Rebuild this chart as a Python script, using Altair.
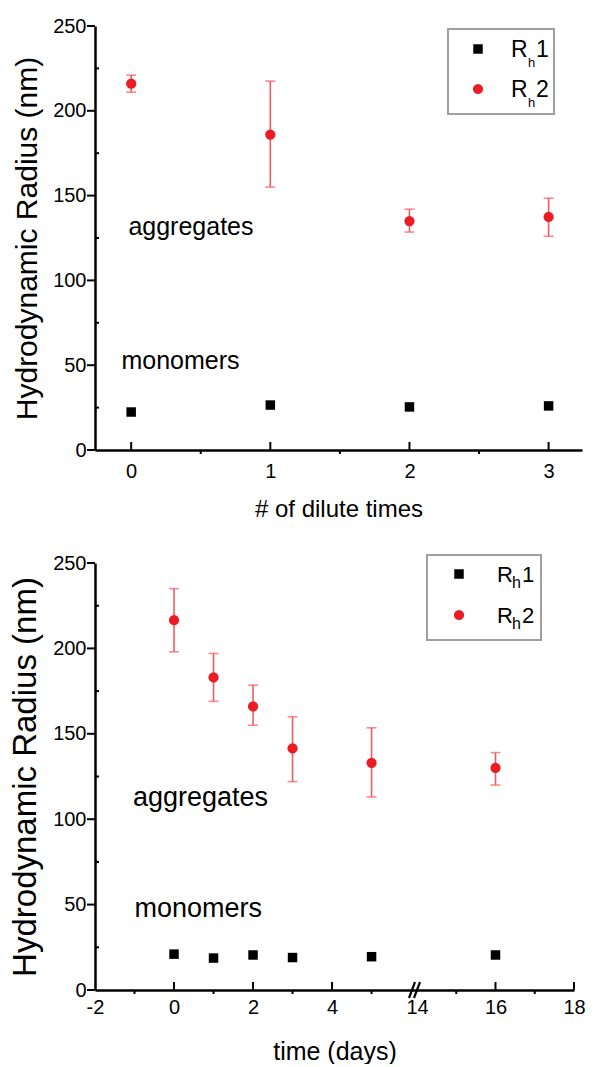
import altair as alt
import pandas as pd

FONT = "Liberation Sans"
RED = "#ea1c24"
ERRC = "#ef5d62"

# ---------------- data ----------------
top_x = [0, 1, 2, 3]
top_rh1 = [22.4, 26.5, 25.4, 26.0]
top_rh2 = [216.0, 186.0, 135.0, 137.4]
top_rh2_lo = [211.0, 155.0, 128.5, 126.0]
top_rh2_hi = [221.0, 217.5, 142.0, 148.5]

bot_t = [0, 1, 2, 3, 5, 16]
bot_rh1 = [21.0, 18.7, 20.5, 19.0, 19.5, 20.5]
bot_rh2 = [216.5, 183.0, 166.0, 141.5, 133.0, 130.0]
bot_rh2_lo = [198.0, 169.0, 155.0, 122.0, 113.0, 120.0]
bot_rh2_hi = [235.0, 197.0, 178.5, 160.0, 153.5, 139.0]

series_nums = ["1", "2"]
y_major = [0, 50, 100, 150, 200, 250]
y_minor = [25, 75, 125, 175, 225]
top_x_labels = [0, 1, 2, 3]
top_x_major = [0, 1, 2, 3]
top_x_minor = [0.5, 1.5, 2.5]
bot_x_labels = [-2, 0, 2, 4, 14, 16, 18]
bot_x_major = [0, 2, 4, 16, 18]
bot_x_minor = [-1, 1, 3, 5, 15, 17]
bot_x_break = [14]


def panel(xv, rh1, rh2, lo, hi, xscale, label_vals, x_major, x_minor, W, H,
          xtitle, xtitle_size, ytitle_size, ann, ann_size, leg, lay, breaks=None):
    df = pd.DataFrame({"x": xv, "rh1": rh1, "rh2": rh2, "lo": lo, "hi": hi})
    ys = alt.Scale(domain=[0, 250], nice=False, zero=False)
    xaxis = alt.Axis(values=label_vals, ticks=False, grid=False, domainColor="black",
                     domainWidth=2.5, labelFont=FONT, labelFontSize=20, labelColor="black",
                     labelPadding=lay["xlp"], labelOverlap=False, labelFlush=False,
                     labelExpr="datum.value < 0 ? '-' + abs(datum.value) : datum.label",
                     title=xtitle, titleFont=FONT, titleFontSize=xtitle_size,
                     titleFontWeight="normal", titleColor="black", titlePadding=lay["xtp"])
    yaxis = alt.Axis(values=y_major, ticks=False, grid=False, domainColor="black",
                     domainWidth=2.5, labelFont=FONT, labelFontSize=20, labelColor="black",
                     labelPadding=9, labelOverlap=False, labelFlush=False,
                     title="Hydrodynamic Radius (nm)", titleFont=FONT,
                     titleFontSize=ytitle_size, titleFontWeight="normal",
                     titleColor="black", titlePadding=lay["ytp"])

    def X(f):
        return alt.X(f, scale=xscale, axis=xaxis)

    def Y(f):
        return alt.Y(f, scale=ys, axis=yaxis)

    base = alt.Chart(df)
    layers = []
    layers.append(base.mark_rule(color=ERRC, strokeWidth=1.6).encode(
        x=X("x:Q"), y=Y("lo:Q"), y2="hi:Q"))
    for f in ["lo", "hi"]:
        layers.append(base.mark_tick(color=ERRC, thickness=1.6, size=10,
                                     orient="horizontal").encode(x=X("x:Q"), y=Y(f + ":Q")))
    layers.append(base.mark_point(shape="square", filled=True, size=90, color="black",
                                  opacity=1).encode(x=X("x:Q"), y=Y("rh1:Q")))
    layers.append(base.mark_circle(size=105, color=RED, opacity=1).encode(
        x=X("x:Q"), y=Y("rh2:Q")))

    # axis ticks
    layers.append(alt.Chart(pd.DataFrame({"x": x_major})).mark_rule(
        color="black", strokeWidth=2).encode(x=X("x:Q"), y=alt.value(H), y2=alt.value(H - 8)))
    layers.append(alt.Chart(pd.DataFrame({"x": x_minor})).mark_rule(
        color="black", strokeWidth=2).encode(x=X("x:Q"), y=alt.value(H), y2=alt.value(H + 4)))
    layers.append(alt.Chart(pd.DataFrame({"y": y_major})).mark_rule(
        color="black", strokeWidth=2).encode(y=Y("y:Q"), x=alt.value(0), x2=alt.value(-8)))
    layers.append(alt.Chart(pd.DataFrame({"y": y_minor})).mark_rule(
        color="black", strokeWidth=2).encode(y=Y("y:Q"), x=alt.value(0), x2=alt.value(4)))

    if breaks:
        bdf = pd.DataFrame({"x": breaks, "y": [0] * len(breaks)})
        for off in (-8, -3):
            layers.append(alt.Chart(bdf).mark_rule(
                color="black", strokeWidth=2.2, xOffset=off, x2Offset=off + 6,
                yOffset=8, y2Offset=-8).encode(
                x=X("x:Q"), x2="x:Q", y=Y("y:Q"), y2="y:Q"))

    # annotations
    for (t, ax, ay) in ann:
        layers.append(alt.Chart(pd.DataFrame({"t": [t], "x": [ax], "y": [ay]})).mark_text(
            font=FONT, fontSize=ann_size, color="black", align="left",
            baseline="alphabetic").encode(x=X("x:Q"), y=Y("y:Q"), text="t:N"))

    # custom legend
    bx1, bx2, by1, by2 = leg["box"]
    one = pd.DataFrame({"a": [0]})
    layers.append(alt.Chart(one).mark_rect(fill="white", stroke="#a0a0a0",
                                           strokeWidth=2).encode(
        x=alt.value(bx1), x2=alt.value(bx2), y=alt.value(by1), y2=alt.value(by2)))
    sx = leg["sym_x"]
    r0, r1 = leg["rows"]
    layers.append(alt.Chart(one).mark_point(shape="square", filled=True, size=90,
                                            color="black", opacity=1).encode(
        x=alt.value(sx), y=alt.value(r0)))
    layers.append(alt.Chart(one).mark_circle(size=105, color=RED, opacity=1).encode(
        x=alt.value(sx), y=alt.value(r1)))
    for row_y, num in zip([r0, r1], series_nums):
        layers.append(alt.Chart(one).mark_text(font=FONT, fontSize=leg["fs"], color="black",
                                               align="left", baseline="alphabetic",
                                               text="R").encode(
            x=alt.value(leg["rx"]), y=alt.value(row_y + leg["base"])))
        layers.append(alt.Chart(one).mark_text(font=FONT, fontSize=leg["hfs"], color="black",
                                               align="left", baseline="alphabetic",
                                               text="h").encode(
            x=alt.value(leg["hx"]), y=alt.value(row_y + leg["hbase"])))
        layers.append(alt.Chart(one).mark_text(font=FONT, fontSize=leg["fs"], color="black",
                                               align="left", baseline="alphabetic",
                                               text=num).encode(
            x=alt.value(leg["nx"]), y=alt.value(row_y + leg["base"])))

    return alt.layer(*layers).properties(width=W, height=H)


top_scale = alt.Scale(domain=[-0.26, 3.24], nice=False, zero=False)
top = panel(top_x, top_rh1, top_rh2, top_rh2_lo, top_rh2_hi, top_scale,
            top_x_labels, top_x_major, top_x_minor, 487, 424,
            "# of dilute times", 24, 30,
            [("aggregates", -0.02, 127), ("monomers", -0.07, 48)], 25,
            {"box": (353, 459, 3, 88), "sym_x": 383, "rows": (23, 63), "fs": 23,
             "rx": 416, "base": 8, "hfs": 13, "hx": 433, "hbase": 18, "nx": 441},
            {"xlp": 11, "xtp": 16, "ytp": 10})

bot_scale = alt.Scale(domain=[-2, 6.15, 14, 18], range=[0, 322, 322, 479],
                      nice=False, zero=False)
bottom = panel(bot_t, bot_rh1, bot_rh2, bot_rh2_lo, bot_rh2_hi, bot_scale,
               bot_x_labels, bot_x_major, bot_x_minor, 479, 427,
               "time (days)", 25, 33,
               [("aggregates", -1.04, 108), ("monomers", -1.0, 43)], 27,
               {"box": (332, 446, -8, 77), "sym_x": 364, "rows": (11, 52), "fs": 22,
                "rx": 402, "base": 8, "hfs": 16, "hx": 417, "hbase": 14, "nx": 427},
               {"xlp": 7, "xtp": 22, "ytp": 10},
               breaks=bot_x_break)

chart = alt.vconcat(top, bottom, spacing=32).properties(
    padding={"left": 9, "top": 16, "right": 0, "bottom": 0}
).configure_view(stroke=None)

chart.save("out.html", embed_options={"renderer": "svg", "actions": False})
